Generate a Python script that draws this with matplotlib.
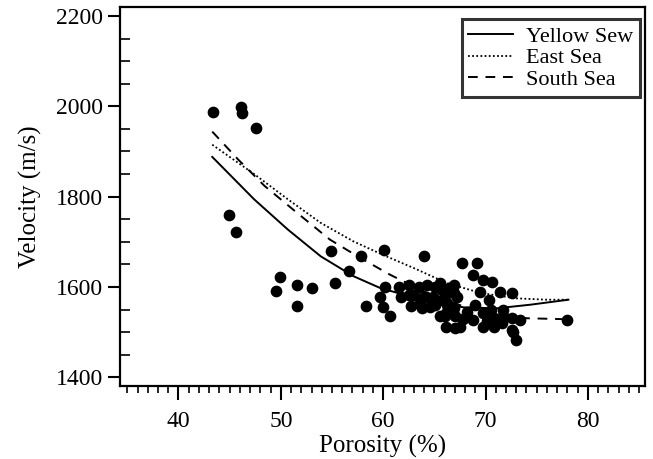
import matplotlib
matplotlib.use('Agg')
import matplotlib.pyplot as plt
from matplotlib.ticker import MultipleLocator

# measured points
porosity = [43.4, 46.1, 46.2, 47.6, 44.9, 45.6, 49.9, 49.5, 51.6, 53.0,
            51.6, 54.9, 55.3, 56.7, 57.8, 58.3, 60.1, 64.0, 60.0, 60.7,
            60.2, 59.7, 61.5, 62.5, 63.5, 64.3, 65.1, 61.7, 63.0, 64.0,
            62.7, 63.8, 65.1, 65.6, 66.1, 65.9, 66.4, 67.7, 69.2, 68.8,
            69.8, 66.9, 66.2, 67.2, 69.5, 70.3, 71.4, 72.6, 66.1, 67.5,
            67.0, 68.8, 70.1, 70.8, 71.6, 72.6, 73.4, 72.7, 73.0, 66.2,
            65.6, 70.5, 71.7, 78.0, 65.8, 64.2, 65.7, 66.7, 63.6, 64.6,
            66.9, 67.0, 62.5, 64.9, 66.2, 66.9, 66.0, 69.8, 70.8, 71.7,
            69.8, 72.6, 68.2, 69.0, 70.6, 67.8]
velocity = [1988, 1998, 1986, 1951, 1760, 1722, 1623, 1592, 1605, 1598,
            1557, 1679, 1610, 1635, 1668, 1557, 1681, 1669, 1556, 1535,
            1601, 1579, 1601, 1605, 1601, 1605, 1601, 1579, 1583, 1579,
            1557, 1553, 1561, 1535, 1512, 1576, 1598, 1654, 1653, 1627,
            1616, 1605, 1587, 1579, 1590, 1572, 1590, 1587, 1542, 1512,
            1535, 1527, 1524, 1512, 1520, 1531, 1527, 1501, 1483, 1564,
            1609, 1550, 1550, 1526, 1572, 1579, 1593, 1597, 1564, 1556,
            1553, 1509, 1582, 1578, 1560, 1586, 1535, 1542, 1531, 1535,
            1512, 1505, 1545, 1560, 1612, 1530]

# regression curves
yellow_x = [43.3, 47.4, 50.7, 53.9, 57.1, 59.7, 62.5, 65.0, 67.9, 71.1, 74.4, 78.1]
yellow_y = [1888, 1794, 1727, 1668, 1624, 1598, 1580, 1566, 1555, 1553, 1561, 1572]

east_x = [43.3, 47.4, 50.7, 53.9, 57.1, 60.0, 63.0, 66.2, 69.5, 73.0, 76.0, 78.1]
east_y = [1915, 1850, 1794, 1742, 1701, 1671, 1642, 1609, 1587, 1575, 1572, 1572]

south_x = [43.3, 45.8, 48.4, 51.6, 54.8, 57.8, 60.7, 64.0, 67.5, 71.0, 74.0, 77.6]
south_y = [1944, 1883, 1824, 1764, 1705, 1664, 1627, 1590, 1560, 1540, 1531, 1529]

plt.rcParams['font.family'] = ['Liberation Serif', 'DejaVu Serif']

fig = plt.figure(figsize=(6.53, 4.59), dpi=100)
ax = fig.add_axes([0.184, 0.159, 0.804, 0.825])

ax.scatter(porosity, velocity, s=55, color='black', zorder=3)
ax.plot(yellow_x, yellow_y, '-', color='black', lw=1.4, label='Yellow Sew')
ax.plot(east_x, east_y, color='black', lw=1.3, linestyle=(0, (1, 1.3)),
        label='East Sea')
ax.plot(south_x, south_y, color='black', lw=1.4, linestyle=(0, (5, 4)),
        label='South Sea')

ax.set_xlim(34.3, 85.6)
ax.set_ylim(1381, 2219)
ax.xaxis.set_major_locator(MultipleLocator(10))
ax.xaxis.set_minor_locator(MultipleLocator(1))
ax.yaxis.set_major_locator(MultipleLocator(200))
ax.yaxis.set_minor_locator(MultipleLocator(50))
ax.tick_params(axis='x', which='major', direction='out', length=10, width=1.5,
               labelsize=17, pad=8)
ax.tick_params(axis='x', which='minor', direction='out', length=5, width=1.2)
ax.tick_params(axis='y', which='major', direction='out', length=9, width=1.5,
               labelsize=17, pad=3)
ax.tick_params(axis='y', which='minor', direction='in', length=7, width=1.2)
for sp in ax.spines.values():
    sp.set_linewidth(1.6)

ax.set_xlabel('Porosity (%)', fontsize=18, labelpad=2)
ax.set_ylabel('Velocity (m/s)', fontsize=18, labelpad=10)

leg = ax.legend(loc='upper right', fontsize=16, frameon=True, fancybox=False,
                handlelength=2.0, handletextpad=0.6, borderpad=0.3,
                labelspacing=0.05, borderaxespad=0,
                bbox_to_anchor=(0.99, 0.968))
leg.get_frame().set_edgecolor('black')
leg.get_frame().set_linewidth(2.2)

fig.savefig('out.png', dpi=100)
